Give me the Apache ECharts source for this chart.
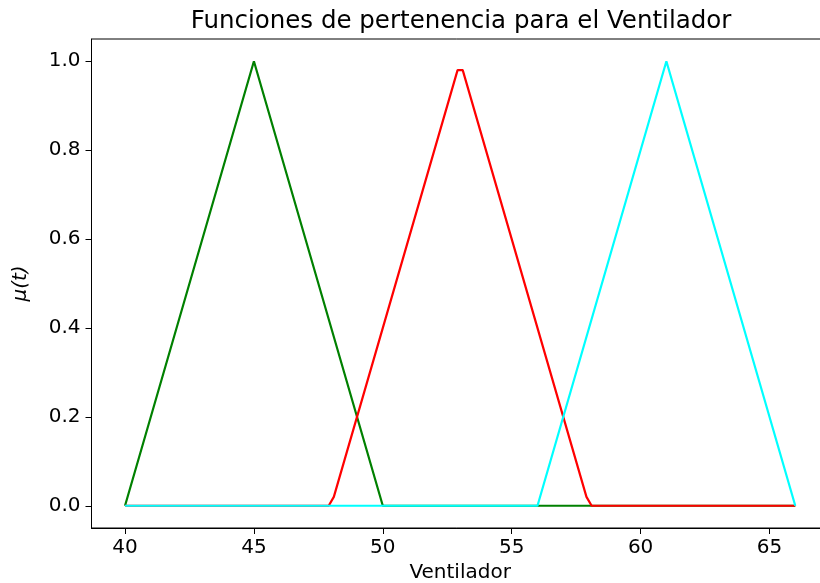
<!DOCTYPE html>
<html>
<head>
<meta charset="utf-8">
<script src="https://cdn.jsdelivr.net/npm/echarts@6/dist/echarts.min.js"></script>
<style>html,body{margin:0;padding:0;background:#fff}#c{width:820px;height:583px}</style>
</head>
<body>
<div id="c"></div>
<script>
const xTicks = [40, 45, 50, 55, 60, 65];
const yTicks = [0, 0.2, 0.4, 0.6, 0.8, 1.0];
const greenX = [40, 45, 50, 66];
const greenY = [0, 1, 0, 0];
const redX = [40, 47.9, 48.1, 52.9, 53.1, 57.9, 58.1, 66];
const redY = [0, 0, 0.02, 0.98, 0.98, 0.02, 0, 0];
const cyanX = [40, 56, 61, 66];
const cyanY = [0, 0, 1, 0];

const pairs = (xs, ys) => xs.map((x, i) => [x, ys[i]]);
const font = 'DejaVu Sans';
const chart = echarts.init(document.getElementById('c'), null, {renderer: 'canvas'});
const mk = (name, xs, ys, color, z) => ({
  name, type: 'line', data: pairs(xs, ys), showSymbol: false, symbol: 'none',
  lineStyle: {color, width: 2.2}, z, animation: false
});
chart.setOption({
  animation: false,
  backgroundColor: '#fff',
  title: {
    text: 'Funciones de pertenencia para el Ventilador',
    left: 456, top: 4, textAlign: 'center',
    textStyle: {fontFamily: font, fontSize: 24.5, fontWeight: 'normal', color: '#000'}
  },
  grid: {left: 91.5, top: 39, width: 737.3, height: 489, show: true,
    borderColor: '#000', borderWidth: 1, backgroundColor: 'transparent',
    containLabel: false, outerBoundsMode: 'none'},
  xAxis: {
    type: 'value', min: 38.7, max: 67.3,
    name: 'Ventilador', nameLocation: 'middle', nameGap: 35,
    nameTextStyle: {fontFamily: font, fontSize: 20, color: '#000'},
    axisLine: {show: true, onZero: false, lineStyle: {color: '#000', width: 1}},
    axisTick: {show: true, length: 6, lineStyle: {color: '#000'}, customValues: xTicks},
    axisLabel: {fontFamily: font, fontSize: 20, color: '#000', margin: 10, customValues: xTicks,
      formatter: v => String(v)},
    splitLine: {show: false}
  },
  yAxis: {
    type: 'value', min: -0.05, max: 1.05,
    name: 'μ(t)', nameLocation: 'middle', nameGap: 61, nameRotate: 90,
    nameTextStyle: {fontFamily: font, fontSize: 20, color: '#000', fontStyle: 'italic'},
    axisLine: {show: true, onZero: false, lineStyle: {color: '#000', width: 1}},
    axisTick: {show: true, length: 6, lineStyle: {color: '#000'}, customValues: yTicks},
    axisLabel: {fontFamily: font, fontSize: 20, color: '#000', margin: 11, customValues: yTicks,
      formatter: v => v.toFixed(1)},
    splitLine: {show: false}
  },
  series: [
    mk('green', greenX, greenY, '#008000', 2),
    mk('red', redX, redY, '#ff0000', 3),
    mk('cyan', cyanX, cyanY, '#00ffff', 4)
  ]
});
</script>
</body>
</html>
